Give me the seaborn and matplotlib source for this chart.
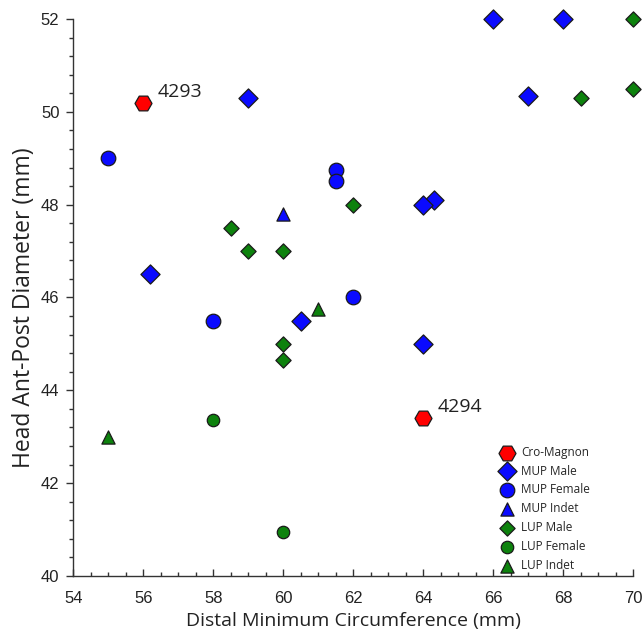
import matplotlib
matplotlib.use("Agg")
import matplotlib.pyplot as plt
import pandas as pd
import seaborn as sns
from matplotlib.ticker import MultipleLocator, AutoMinorLocator

# Data
cro_x = [56, 64]
cro_y = [50.2, 43.4]
cro_ids = ["4293", "4294"]

mup_male_x = [59, 56.2, 60.5, 64, 64.3, 64, 66, 68, 67]
mup_male_y = [50.3, 46.5, 45.5, 45.0, 48.1, 48.0, 52, 52, 50.35]

mup_female_x = [55, 61.5, 61.5, 58, 62]
mup_female_y = [49.0, 48.75, 48.5, 45.5, 46.0]

mup_indet_x = [60]
mup_indet_y = [47.8]

lup_male_x = [58.5, 59, 60, 62, 60, 60, 68.5, 70, 70]
lup_male_y = [47.5, 47.0, 47.0, 48.0, 45.0, 44.65, 50.3, 50.5, 52]

lup_female_x = [58, 60]
lup_female_y = [43.35, 40.95]

lup_indet_x = [55, 61]
lup_indet_y = [43.0, 45.75]

groups = [
    ("Cro-Magnon", cro_x, cro_y, "H", "#ff0000", 150),
    ("MUP Male", mup_male_x, mup_male_y, "D", "#0a0aff", 95),
    ("MUP Female", mup_female_x, mup_female_y, "o", "#0a0aff", 110),
    ("MUP Indet", mup_indet_x, mup_indet_y, "^", "#0a0aff", 90),
    ("LUP Male", lup_male_x, lup_male_y, "D", "#0d820d", 60),
    ("LUP Female", lup_female_x, lup_female_y, "o", "#0d820d", 80),
    ("LUP Indet", lup_indet_x, lup_indet_y, "^", "#0d820d", 90),
]

sns.set_style("ticks")
plt.rcParams['font.family'] = ['Liberation Sans', 'DejaVu Sans']

fig = plt.figure(figsize=(6.43, 6.37), dpi=100)
ax = fig.add_axes([0.114, 0.096, 0.871, 0.874])

for name, xs, ys, mk, col, s in groups:
    df = pd.DataFrame({"x": xs, "y": ys})
    sns.scatterplot(data=df, x="x", y="y", marker=mk, color=col, s=s,
                    edgecolor="#1a1a1a", linewidth=0.9, label=name, ax=ax,
                    clip_on=False, zorder=3)

for x, y, t in zip(cro_x, cro_y, cro_ids):
    ax.annotate(t, (x, y), xytext=(10, 8), textcoords="offset points",
                ha="left", va="center", fontsize=14, color="#222222",
                family="Open Sans")

ax.set_xlim(54, 70)
ax.set_ylim(40, 52)
ax.xaxis.set_major_locator(MultipleLocator(2))
ax.xaxis.set_minor_locator(MultipleLocator(0.5))
ax.yaxis.set_major_locator(MultipleLocator(2))
ax.yaxis.set_minor_locator(AutoMinorLocator(5))

ax.tick_params(axis="x", which="major", direction="in", length=5, width=1,
               pad=11, labelsize=12, colors="#333333", labelcolor="#222222")
ax.tick_params(axis="x", which="minor", direction="in", length=3, width=1,
               colors="#333333")
ax.tick_params(axis="y", which="major", direction="out", length=5, width=1,
               pad=5, labelsize=12, colors="#333333", labelcolor="#222222")
ax.tick_params(axis="y", which="minor", direction="out", length=3, width=1,
               colors="#333333")
for sp in ["left", "bottom"]:
    ax.spines[sp].set_color("#333333")
    ax.spines[sp].set_linewidth(1)
sns.despine(ax=ax)

ax.set_xlabel("Distal Minimum Circumference (mm)", fontsize=14,
              family="Open Sans", color="#222222", labelpad=4)
ax.set_ylabel("Head Ant-Post Diameter (mm)", fontsize=16.5,
              family="Open Sans", color="#222222")
ax.yaxis.set_label_coords(-0.067, 0.482)

leg = ax.legend(loc="lower right", bbox_to_anchor=(0.935, -0.006), frameon=False,
                handletextpad=0.15, labelspacing=0.5, borderaxespad=0.2,
                prop={"family": "Open Sans", "size": 8.5})

fig.savefig("out.png", dpi=100)
